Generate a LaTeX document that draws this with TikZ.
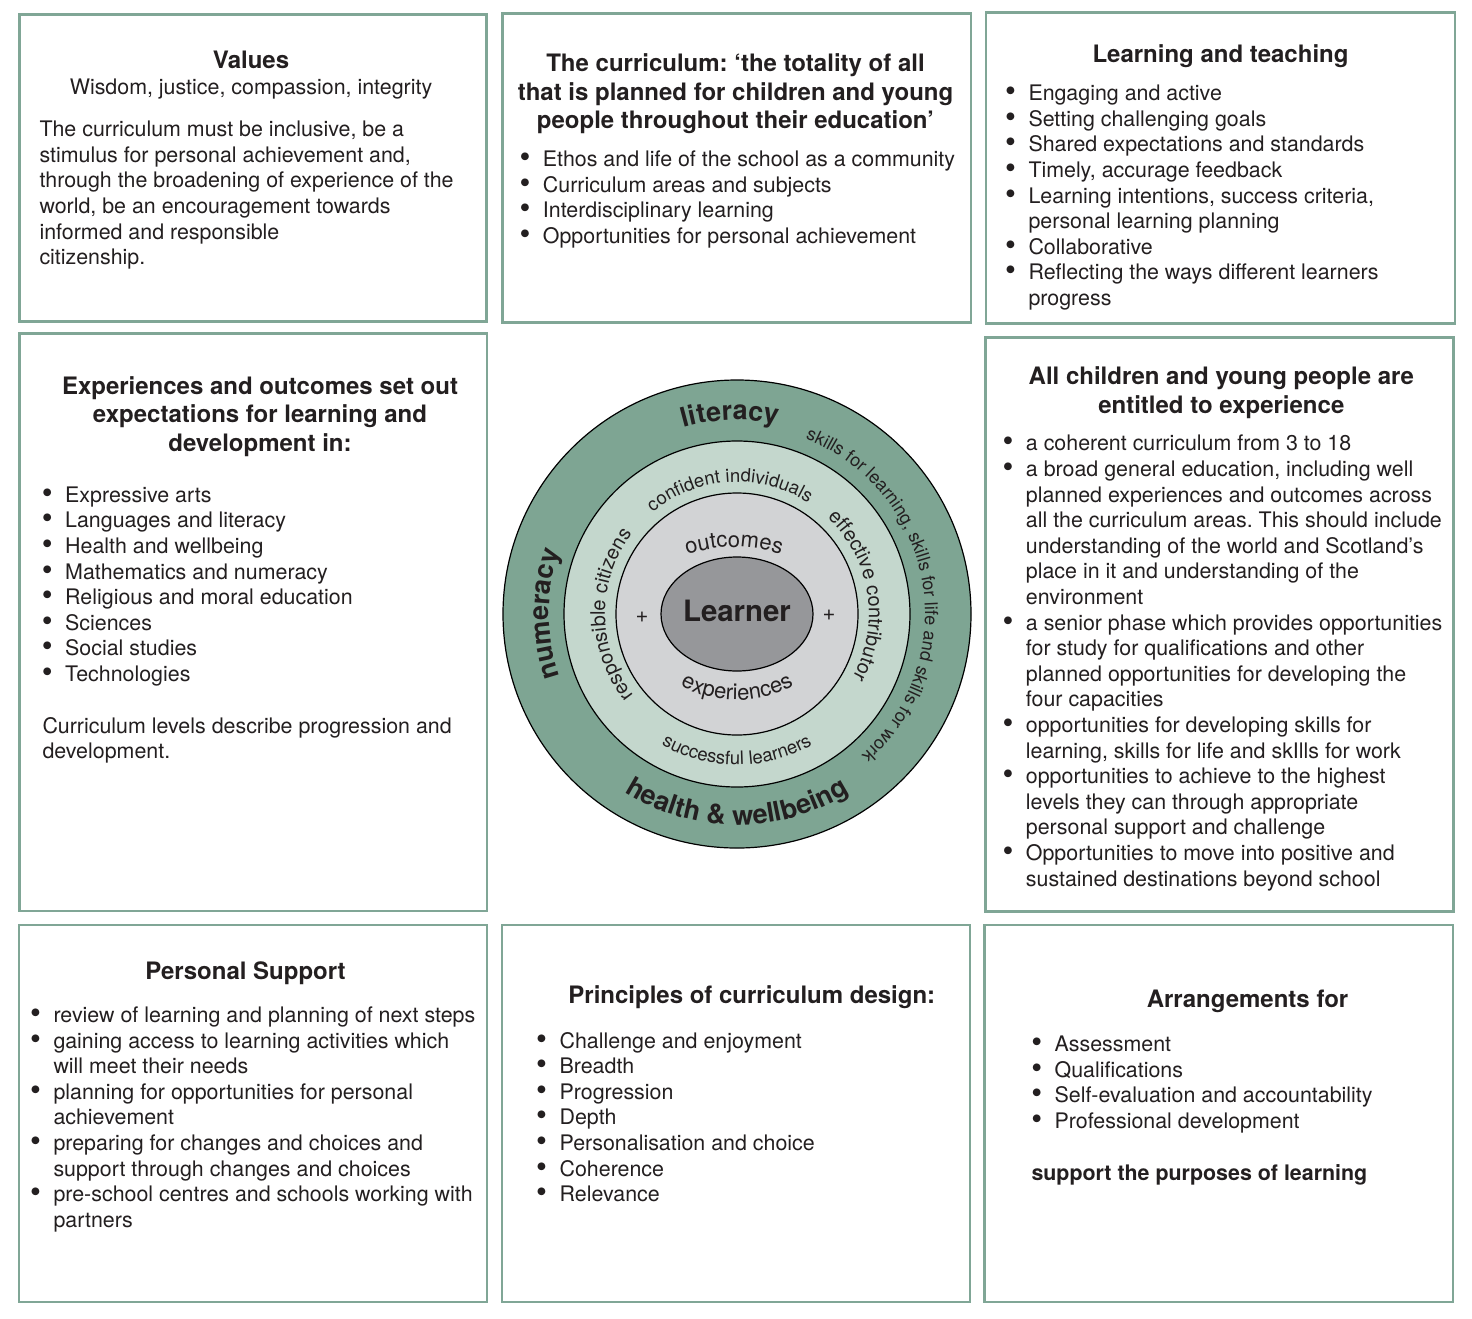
\documentclass[tikz,border=0pt]{standalone}
\usepackage{fontspec}
\usepackage{graphicx}
\setmainfont{TeX Gyre Heros}
\usetikzlibrary{decorations.text}
\frenchspacing

\definecolor{sage}{RGB}{128,166,150}
\definecolor{ringdark}{RGB}{126,165,147}
\definecolor{ringlight}{RGB}{196,215,205}
\definecolor{ringgray}{RGB}{210,211,213}
\definecolor{learnergray}{RGB}{150,151,154}
\definecolor{ink}{RGB}{35,31,32}

\newcommand{\bul}{\llap{\raisebox{-1pt}{\scalebox{1.45}{\textbullet}}\hspace{12.5pt}}}
\newcommand{\ringbold}{\fontsize{27}{30}\selectfont\bfseries}
\newcommand{\ringsmall}{\fontsize{18.5}{21}\selectfont}
\newcommand{\ringside}{\fontsize{20}{22}\selectfont}

\tikzset{
	panel/.style = {draw = sage, line width = 2.5pt},
	head/.style = {font = \fontsize{24}{28.6}\selectfont\bfseries, align = center, text = ink, inner sep = 0pt, anchor = base},
	body/.style = {font = \fontsize{21.4}{25.6}\selectfont, align = left, text = ink, inner sep = 0pt, anchor = base west},
	ring/.style = {draw = black, line width = 1.2pt},
	along/.style = {decorate, decoration = {text along path, text align = center, text color = ink, text = {#1}}}
}

\begin{document}
\begin{tikzpicture}[x = 1pt, y = -1pt]
	%	page
	\fill[white] (0, 0) rectangle (1472, 1318);
	\useasboundingbox (0, 0) rectangle (1472, 1318);
	
	%	boxes
	\draw[panel] (19.5, 14.5) rectangle (486.5, 321.5);
	\draw[panel] (502.5, 13.5) rectangle (971, 322.5);
	\draw[panel] (986, 12.5) rectangle (1455, 323.5);
	\draw[panel] (19.5, 333.5) rectangle (487, 911);
	\draw[panel] (985.5, 337.5) rectangle (1453.5, 911.5);
	\draw[panel] (19, 925) rectangle (487, 1302);
	\draw[panel] (502, 925) rectangle (970, 1302);
	\draw[panel] (984.5, 925) rectangle (1453, 1302);
	
	%	values (multi-line nodes sit on their last baseline)
	\node[head] (values) at (251, 68.3) {Values};
	\node[body, anchor = base] (virtues) at (251, 94.3) {Wisdom, justice, compassion, integrity};
	\node[body] (valuestext) at (39.3, 264.7) {The curriculum must be inclusive, be a\\
		stimulus for personal achievement and,\\
		through the broadening of experience of the\\
		world, be an encouragement towards\\
		informed and responsible\\
		citizenship.};
	
	%	curriculum
	\node[head] (curriculum) at (735.5, 128.6) {The curriculum: ‘the totality of all\\
		that is planned for children and young\\
		people throughout their education’};
	\node[body] (curriculumlist) at (542.7, 243.5) {\bul Ethos and life of the school as a community\\
		\bul Curriculum areas and subjects\\
		\bul Interdisciplinary learning\\
		\bul Opportunities for personal achievement};
	
	%	learning and teaching
	\node[head] (teaching) at (1220.5, 62.7) {Learning and teaching};
	\node[body] (teachinglist) at (1028.3, 305.5) {\bul Engaging and active\\
		\bul Setting challenging goals\\
		\bul Shared expectations and standards\\
		\bul Timely, accurage feedback\\
		\bul Learning intentions, success criteria,\\
		personal learning planning\\
		\bul Collaborative\\
		\bul Reflecting the ways different learners\\
		progress};
	
	%	experiences and outcomes
	\node[head] (expout) at (260, 451.3) {Experiences and outcomes set out\\
		expectations for learning and\\
		development in:};
	\node[body] (expoutlist) at (65, 681.5) {\bul Expressive arts\\
		\bul Languages and literacy\\
		\bul Health and wellbeing\\
		\bul Mathematics and numeracy\\
		\bul Religious and moral education\\
		\bul Sciences\\
		\bul Social studies\\
		\bul Technologies};
	\node[body] (levels) at (42.3, 758.9) {Curriculum levels describe progression and\\
		development.};
	
	%	entitlements
	\node[head] (entitled) at (1221.3, 413.5) {All children and young people are\\
		entitled to experience};
	\node[body] (entitledlist) at (1025.7, 886) {\bul a coherent curriculum from 3 to 18\\
		\bul a broad general education, including well\\
		planned experiences and outcomes across\\
		all the curriculum areas. This should include\\
		understanding of the world and Scotland’s\\
		place in it and understanding of the\\
		environment\\
		\bul a senior phase which provides opportunities\\
		for study for qualifications and other\\
		planned opportunities for developing the\\
		four capacities\\
		\bul opportunities for developing skills for\\
		learning, skills for life and skIlls for work\\
		\bul opportunities to achieve to the highest\\
		levels they can through appropriate\\
		personal support and challenge\\
		\bul Opportunities to move into positive and\\
		sustained destinations beyond school};
	
	%	personal support
	\node[head] (support) at (245.5, 979) {Personal Support};
	\node[body] (supportlist) at (53.3, 1227.3) {\bul review of learning and planning of next steps\\
		\bul gaining access to learning activities which\\
		will meet their needs\\
		\bul planning for opportunities for personal\\
		achievement\\
		\bul preparing for changes and choices and\\
		support through changes and choices\\
		\bul pre-school centres and schools working with\\
		partners};
	
	%	principles
	\node[head] (principles) at (751.8, 1003.3) {Principles of curriculum design:};
	\node[body] (principleslist) at (559.4, 1201.7) {\bul Challenge and enjoyment\\
		\bul Breadth\\
		\bul Progression\\
		\bul Depth\\
		\bul Personalisation and choice\\
		\bul Coherence\\
		\bul Relevance};
	
	%	arrangements
	\node[head] (arrange) at (1247.5, 1007.3) {Arrangements for};
	\node[body] (arrangelist) at (1054.4, 1128.5) {\bul Assessment\\
		\bul Qualifications\\
		\bul Self-evaluation and accountability\\
		\bul Professional development};
	\node[body, font = \fontsize{21.4}{25.6}\selectfont\bfseries] (purposes) at (1031.3, 1180) {support the purposes of learning};
	
	%	wheel - y up again
	\begin{scope}[shift = {(737, 614)}, y = 1pt]
		\filldraw[ring, fill = ringdark] (0, 0) circle[radius = 234];
		\filldraw[ring, fill = ringlight] (0, 0) circle[radius = 173];
		\filldraw[ring, fill = ringgray] (0, 0) circle[radius = 121];
		\filldraw[ring, fill = learnergray] (0, 0) ellipse[x radius = 76, y radius = 57];
		\node[text = ink, font = \fontsize{29.4}{32}\selectfont\bfseries, inner sep = 0pt] (learner) at (0, 3) {Learner};
		\node[text = ink, font = \fontsize{22}{24}\selectfont, inner sep = 0pt] (plusl) at (-95, -3) {+};
		\node[text = ink, font = \fontsize{22}{24}\selectfont, inner sep = 0pt] (plusr) at (92, -1) {+};
		
		%	outer ring
		\path[along = {|\ringbold|literacy}] (122:194) arc[start angle = 122, end angle = 62, radius = 194];
		\path[along = {|\ringbold|numeracy}] (210:188) arc[start angle = 210, end angle = 150, radius = 188];
		\path[along = {|\ringbold|health {\&} wellbeing}] (230:211) arc[start angle = 230, end angle = 310, radius = 211];
		\path[along = {|\fontsize{18}{20}\selectfont|skills for learning, skills for life and skills for work}] (82:188) arc[start angle = 82, end angle = -62, radius = 188];
		
		%	four capacities
		\path[along = {|\ringsmall|confident individuals}] (150:132) arc[start angle = 150, end angle = 37, radius = 132];
		\path[along = {|\ringside|effective contributor}] (66:132) arc[start angle = 66, end angle = -48, radius = 132];
		\path[along = {|\ringside|responsible citizens}] (237:132) arc[start angle = 237, end angle = 124, radius = 132];
		\path[along = {|\ringsmall|successful learners}] (215:151) arc[start angle = 215, end angle = 325, radius = 151];
		
		%	inner circle
		\path[along = {|\fontsize{22}{24}\selectfont|outcomes}] ([shift = {(-3, -83)}] 115:150) arc[start angle = 115, end angle = 65, radius = 150];
		\path[along = {|\fontsize{22}{24}\selectfont|experiences}] ([shift = {(0, 34)}] 235:120) arc[start angle = 235, end angle = 305, radius = 120];
	\end{scope}
\end{tikzpicture}
\end{document}
